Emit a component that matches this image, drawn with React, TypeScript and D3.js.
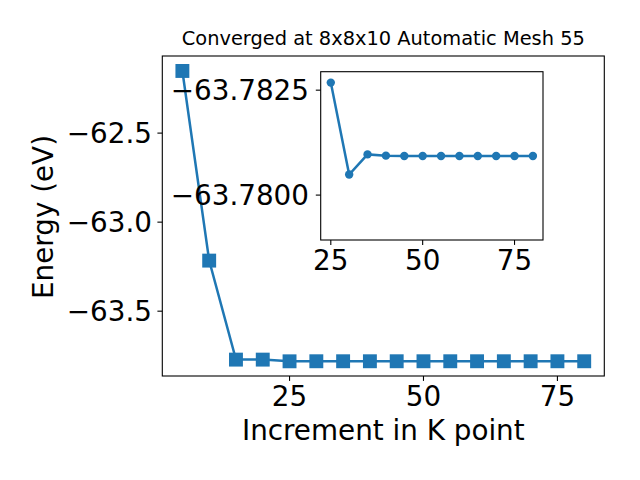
import React from "react";
import * as d3 from "d3";

const kPoints = [5, 10, 15, 20, 25, 30, 35, 40, 45, 50, 55, 60, 65, 70, 75, 80];
const energies = [-62.151, -63.216, -63.772, -63.772, -63.7815, -63.7812, -63.7812, -63.7812, -63.7812, -63.7812, -63.7812, -63.7812, -63.7812, -63.7812, -63.7812, -63.7812];
const insetK = [25, 30, 35, 40, 45, 50, 55, 60, 65, 70, 75, 80];
const insetEnergies = [-63.78268, -63.78049, -63.78097, -63.78094, -63.78093, -63.78093, -63.78093, -63.78093, -63.78093, -63.78093, -63.78093, -63.78093];
const mainXTicks = [25, 50, 75];
const mainYTicks = [-62.5, -63.0, -63.5];
const insetXTicks = [25, 50, 75];
const insetYTicks = [-63.7825, -63.78];
const titleText = "Converged at 8x8x10 Automatic Mesh 55";
const xLabel = "Increment in K point";
const yLabel = "Energy (eV)";

const BLUE = "#1f77b4";
const FONT = "DejaVu Sans, sans-serif";

const minus = (s: string) => s.replace(/-/g, "\u2212");

export default function App() {
  const main = { left: 162.3, right: 604.3, top: 56, bottom: 376 };
  const inset = { left: 320.7, right: 543, top: 71.7, bottom: 240 };

  const x = d3.scaleLinear().domain([1.25, 83.75]).range([main.left, main.right]);
  const y = d3.scaleLinear().domain([-63.864, -62.067]).range([main.bottom, main.top]);
  const xi = d3.scaleLinear().domain([22.25, 82.75]).range([inset.left, inset.right]);
  const yi = d3.scaleLinear().domain([-63.78294, -63.77893]).range([inset.top, inset.bottom]);

  const mainLine = d3.line<number>().x((_, i) => x(kPoints[i])).y((d) => y(d))(energies) || "";
  const insetLine = d3.line<number>().x((_, i) => xi(insetK[i])).y((d) => yi(d))(insetEnergies) || "";

  const fmt1 = d3.format(".1f");
  const fmt4 = d3.format(".4f");
  const tickLen = 4.9;
  const ms = 13.9;
  const tickFont = 27.8;

  return (
    <svg width={640} height={480} style={{ position: "absolute", left: 0, top: 0, background: "white" }} fontFamily={FONT}>
      <rect x={0} y={0} width={640} height={480} fill="white" />
      {/* main axes */}
      <path d={mainLine} fill="none" stroke={BLUE} strokeWidth={2.5} />
      {energies.map((d, i) => (
        <rect key={i} x={x(kPoints[i]) - ms / 2} y={y(d) - ms / 2} width={ms} height={ms} fill={BLUE} />
      ))}
      <rect x={main.left} y={main.top} width={main.right - main.left} height={main.bottom - main.top} fill="none" stroke="black" strokeWidth={1.1} />
      {mainXTicks.map((t) => (
        <g key={"mx" + t}>
          <line x1={x(t)} x2={x(t)} y1={main.bottom} y2={main.bottom + tickLen} stroke="black" strokeWidth={1.1} />
          <text x={x(t)} y={406} fontSize={tickFont} textAnchor="middle">{t}</text>
        </g>
      ))}
      {mainYTicks.map((t) => (
        <g key={"my" + t}>
          <line x1={main.left - tickLen} x2={main.left} y1={y(t)} y2={y(t)} stroke="black" strokeWidth={1.1} />
          <text x={152} y={y(t)} fontSize={tickFont} textAnchor="end" dominantBaseline="central">{minus(fmt1(t))}</text>
        </g>
      ))}
      <text x={(main.left + main.right) / 2} y={440} fontSize={27.8} textAnchor="middle">{xLabel}</text>
      <text transform={`translate(53,217) rotate(-90)`} fontSize={27.8} textAnchor="middle">{yLabel}</text>
      <text x={(main.left + main.right) / 2} y={45} fontSize={19.4} textAnchor="middle">{titleText}</text>

      {/* inset axes */}
      <rect x={inset.left} y={inset.top} width={inset.right - inset.left} height={inset.bottom - inset.top} fill="white" />
      <path d={insetLine} fill="none" stroke={BLUE} strokeWidth={2.5} />
      {insetEnergies.map((d, i) => (
        <circle key={i} cx={xi(insetK[i])} cy={yi(d)} r={4.2} fill={BLUE} />
      ))}
      <rect x={inset.left} y={inset.top} width={inset.right - inset.left} height={inset.bottom - inset.top} fill="none" stroke="black" strokeWidth={1.1} />
      {insetXTicks.map((t) => (
        <g key={"ix" + t}>
          <line x1={xi(t)} x2={xi(t)} y1={inset.bottom} y2={inset.bottom + tickLen} stroke="black" strokeWidth={1.1} />
          <text x={xi(t)} y={270} fontSize={tickFont} textAnchor="middle">{t}</text>
        </g>
      ))}
      {insetYTicks.map((t) => (
        <g key={"iy" + t}>
          <line x1={inset.left - tickLen} x2={inset.left} y1={yi(t)} y2={yi(t)} stroke="black" strokeWidth={1.1} />
          <text x={309} y={yi(t)} fontSize={tickFont} textAnchor="end" dominantBaseline="central">{minus(fmt4(t))}</text>
        </g>
      ))}
    </svg>
  );
}
